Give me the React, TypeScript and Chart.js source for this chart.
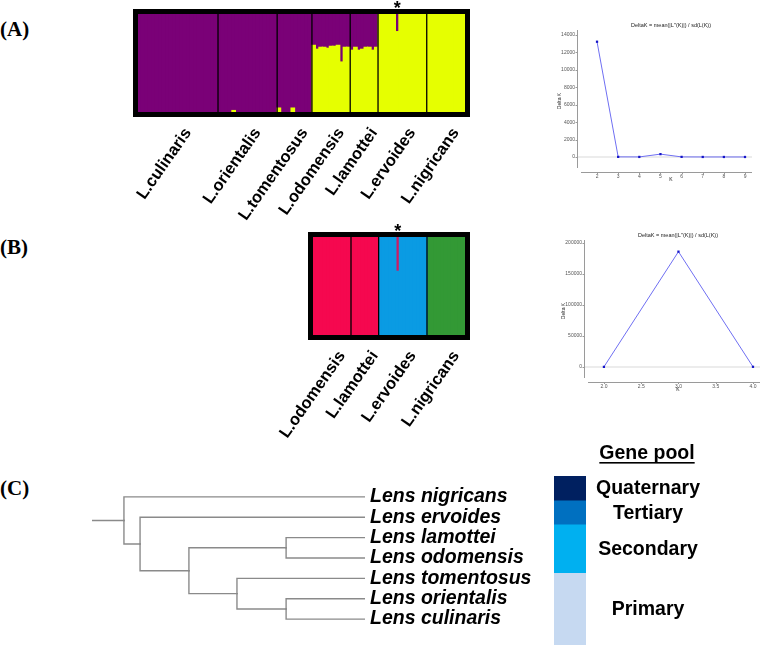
import React, { useEffect, useRef } from "react";
import { Chart, registerables } from "chart.js";
Chart.register(...registerables);

const SANS = "'Liberation Sans', Arial, sans-serif";
const SERIF = "'Liberation Serif', 'Times New Roman', serif";

// ---------- Panel A : STRUCTURE K = 2 (yellow membership per individual) ----------
const groupsA = ["L.culinaris", "L.orientalis", "L.tomentosus", "L.odomensis", "L.lamottei", "L.ervoides", "L.nigricans"];
const yellowCulinaris = [0, 0, 0, 0, 0, 0, 0, 0, 0, 0, 0, 0, 0, 0, 0, 0, 0, 0, 0, 0, 0, 0, 0];
const yellowOrientalis = [0, 0, 0, 0, 0.015, 0, 0, 0, 0, 0, 0, 0, 0, 0, 0, 0, 0];
const yellowTomentosus = [0.04, 0, 0, 0, 0.04, 0, 0, 0, 0, 0];
const yellowOdomensis = [0.68, 0.64, 0.66, 0.66, 0.65, 0.67, 0.67, 0.68, 0.51, 0.66, 0.66];
const yellowLamottei = [0.63, 0.66, 0.63, 0.64, 0.66, 0.66, 0.63, 0.66];
const yellowErvoides = [1, 1, 1, 1, 1, 0.82, 1, 1, 1, 1, 1, 1, 1, 1];
const yellowNigricans = [1, 1, 1, 1, 1, 1, 1, 1, 1, 1, 1];
const starGroupA = 5;
const starMemberA = 5;

// ---------- Panel B : STRUCTURE K = 3 ----------
const groupsB = ["L.odomensis", "L.lamottei", "L.ervoides", "L.nigricans"];
const redOdomensisB = [1, 1, 1, 1, 1, 1, 1, 1, 1, 1, 1];
const redLamotteiB = [1, 1, 1, 1, 1, 1, 1, 1];
const redErvoidesB = [0, 0, 0, 0, 0, 0.35, 0, 0, 0, 0, 0, 0, 0, 0];
const greenNigricansB = [1, 1, 1, 1, 1, 1, 1, 1, 1, 1, 1];
const starGroupB = 2;
const starMemberB = 5;

// ---------- DeltaK (Evanno) ----------
const kValuesA = [2, 3, 4, 5, 6, 7, 8, 9];
const deltaKA = [13230, 15, 8, 330, 12, 5, 4, 3];
const yTicksA = [0, 2000, 4000, 6000, 8000, 10000, 12000, 14000];
const kValuesB = [2, 3, 4];
const deltaKB = [200, 186000, 300];
const xTicksB = [2.0, 2.5, 3.0, 3.5, 4.0];
const yTicksB = [0, 50000, 100000, 150000, 200000];
const deltaTitle = "DeltaK = mean(|L''(K)|) / sd(L(K))";

// ---------- Panel C : tree + gene pool ----------
const tipNames = ["Lens nigricans", "Lens ervoides", "Lens lamottei", "Lens odomensis", "Lens tomentosus", "Lens orientalis", "Lens culinaris"];
const cladeIds = ["root", "c1", "c2", "c3", "c4", "c5"];
const cladeDepths = [11.7, 17.6, 35.5, 71.1, 53.1, 71.1];
const cladeChildren = [
  ["Lens nigricans", "c1"],
  ["Lens ervoides", "c2"],
  ["c3", "c4"],
  ["Lens lamottei", "Lens odomensis"],
  ["Lens tomentosus", "c5"],
  ["Lens orientalis", "Lens culinaris"],
];
const rootStubDepth = 0;
const tipDepth = 100;

const poolNames = ["Quaternary", "Tertiary", "Secondary", "Primary"];
const poolSpecies = [1, 1, 2, 3];
const poolColors = ["#002060", "#0070C0", "#00B0F0", "#C6D9F1"];

// ---------- helpers ----------
const skipZero = (arr: number[]) => arr.map((v) => (v === 0 ? null : v));

function ChartBox({ left, top, width, height, make }: any) {
  const ref = useRef<HTMLCanvasElement>(null);
  useEffect(() => {
    const chart = new Chart(ref.current as HTMLCanvasElement, make());
    return () => chart.destroy();
  }, []);
  return (
    <canvas
      ref={ref}
      width={width}
      height={height}
      style={{ position: "absolute", left, top, width, height, display: "block" }}
    />
  );
}

function structureDeco(names: string[], counts: number[], starIndex: number) {
  return {
    id: "structureDeco",
    afterDraw(chart: any) {
      const { ctx, chartArea: a } = chart;
      const total = counts.reduce((s, c) => s + c, 0);
      const step = (a.right - a.left) / total;
      ctx.save();
      ctx.strokeStyle = "#000";
      ctx.lineWidth = 1.3;
      let cum = 0;
      counts.forEach((c, i) => {
        if (i > 0) {
          const x = a.left + cum * step;
          ctx.beginPath();
          ctx.moveTo(x, a.top);
          ctx.lineTo(x, a.bottom);
          ctx.stroke();
        }
        cum += c;
      });
      ctx.lineWidth = 5;
      ctx.strokeRect(a.left - 2.5, a.top - 2.5, a.right - a.left + 5, a.bottom - a.top + 5);
      ctx.fillStyle = "#000";
      ctx.font = `bold 16.5px ${SANS}`;
      ctx.textAlign = "right";
      ctx.textBaseline = "middle";
      cum = 0;
      counts.forEach((c, i) => {
        const cx = a.left + (cum + c / 2) * step;
        ctx.save();
        ctx.translate(cx + 10, a.bottom + 18);
        ctx.rotate((-55 * Math.PI) / 180);
        ctx.fillText(names[i], 0, 0);
        ctx.restore();
        cum += c;
      });
      const sx = chart.scales.x.getPixelForValue(starIndex);
      ctx.font = `bold 18px ${SANS}`;
      ctx.textAlign = "center";
      ctx.textBaseline = "alphabetic";
      ctx.fillText("*", sx, a.top + 0);
      ctx.restore();
    },
  };
}

function structureConfig(labels: string[], datasets: any[], pad: any, names: string[], counts: number[], star: number) {
  return {
    type: "bar",
    data: { labels, datasets },
    options: {
      responsive: false,
      animation: false,
      devicePixelRatio: 1,
      events: [],
      layout: { padding: pad },
      plugins: { legend: { display: false }, tooltip: { enabled: false } },
      datasets: { bar: { barPercentage: 1, categoryPercentage: 1, borderWidth: 0, inflateAmount: 0.6 } },
      scales: {
        x: { stacked: true, display: false },
        y: { stacked: true, display: false, min: 0, max: 1 },
      },
    },
    plugins: [structureDeco(names, counts, star)],
  };
}

function deltaDeco(o: any) {
  return {
    id: "deltaDeco",
    afterDraw(chart: any) {
      const { ctx, chartArea: a } = chart;
      const xs = chart.scales.x;
      const ys = chart.scales.y;
      ctx.save();
      ctx.strokeStyle = "#9a9a9a";
      ctx.lineWidth = 1;
      ctx.beginPath();
      ctx.moveTo(a.left - 0.5, a.top);
      ctx.lineTo(a.left - 0.5, a.bottom - 4);
      ctx.moveTo(a.left + 3, a.bottom + 0.5);
      ctx.lineTo(a.right, a.bottom + 0.5);
      ys.ticks.forEach((t: any) => {
        const y = Math.round(ys.getPixelForValue(t.value)) + 0.5;
        ctx.moveTo(a.left - 2.5, y);
        ctx.lineTo(a.left - 0.5, y);
      });
      xs.ticks.forEach((t: any) => {
        const x = Math.round(xs.getPixelForValue(t.value)) + 0.5;
        ctx.moveTo(x, a.bottom + 0.5);
        ctx.lineTo(x, a.bottom + 2);
      });
      ctx.stroke();
      const cx = (a.left + a.right) / 2 + o.titleDx;
      ctx.fillStyle = "#222";
      ctx.font = `5.5px ${SANS}`;
      ctx.textAlign = "center";
      ctx.textBaseline = "middle";
      ctx.fillText(o.title, cx, a.top - o.titleDy);
      ctx.font = `5px ${SANS}`;
      ctx.fillText("K", cx, a.bottom + 8);
      ctx.save();
      ctx.translate(a.left - o.yLabelDx, (a.top + a.bottom) / 2);
      ctx.rotate(-Math.PI / 2);
      ctx.fillText("Delta K", 0, 0);
      ctx.restore();
      ctx.restore();
    },
  };
}

function deltaConfig(ks: number[], vals: number[], o: any) {
  return {
    type: "line",
    data: {
      datasets: [
        {
          data: ks.map((k, i) => ({ x: k, y: vals[i] })),
          borderColor: "#6f6ff2",
          borderWidth: 1,
          pointStyle: "rect",
          pointRadius: 1.6,
          pointBackgroundColor: "#1515c8",
          pointBorderWidth: 0,
          tension: 0,
        },
      ],
    },
    options: {
      responsive: false,
      animation: false,
      devicePixelRatio: 1,
      events: [],
      layout: { padding: o.pad },
      plugins: { legend: { display: false }, tooltip: { enabled: false } },
      scales: {
        x: {
          type: "linear",
          min: o.xMin,
          max: o.xMax,
          afterBuildTicks: (s: any) => {
            s.ticks = o.xTicks.map((v: number) => ({ value: v }));
          },
          afterFit: (s: any) => {
            s.height = o.xHeight;
          },
          grid: { display: false, drawTicks: false },
          border: { display: false },
          ticks: { font: { size: 5, family: SANS }, color: "#555", padding: o.xPad, maxRotation: 0, autoSkip: false, callback: o.xFmt },
        },
        y: {
          type: "linear",
          min: o.yMin,
          max: o.yMax,
          afterBuildTicks: (s: any) => {
            s.ticks = o.yTicks.map((v: number) => ({ value: v }));
          },
          afterFit: (s: any) => {
            s.width = o.yWidth;
          },
          grid: {
            drawTicks: false,
            lineWidth: 2,
            color: (c: any) => (c.tick && c.tick.value === 0 ? "#ececec" : "rgba(0,0,0,0)"),
          },
          border: { display: false },
          ticks: { font: { size: 5, family: SANS }, color: "#555", padding: 3, autoSkip: false, callback: (v: any) => String(v) },
        },
      },
    },
    plugins: [deltaDeco(o)],
  };
}

function treeDatasets() {
  const yOf: Record<string, number> = {};
  tipNames.forEach((n, i) => (yOf[n] = i));
  const depthOf: Record<string, number> = {};
  tipNames.forEach((n) => (depthOf[n] = tipDepth));
  cladeIds.forEach((id, i) => (depthOf[id] = cladeDepths[i]));
  const childrenOf: Record<string, string[]> = {};
  cladeIds.forEach((id, i) => (childrenOf[id] = cladeChildren[i]));
  const getY = (id: string): number => {
    if (yOf[id] !== undefined) return yOf[id];
    const ch = childrenOf[id];
    yOf[id] = (getY(ch[0]) + getY(ch[1])) / 2;
    return yOf[id];
  };
  getY("root");
  const segs: any[] = [];
  segs.push([
    { x: rootStubDepth, y: yOf["root"] },
    { x: depthOf["root"], y: yOf["root"] },
  ]);
  cladeIds.forEach((id) => {
    childrenOf[id].forEach((ch) => {
      segs.push([
        { x: depthOf[id], y: yOf[id] },
        { x: depthOf[id], y: yOf[ch] },
        { x: depthOf[ch], y: yOf[ch] },
      ]);
    });
  });
  return segs.map((d) => ({
    data: d,
    borderColor: "#8a8a8a",
    borderWidth: 1.4,
    pointRadius: 0,
    tension: 0,
    borderCapStyle: "square",
    borderJoinStyle: "miter",
  }));
}

function makeTree() {
  return {
    type: "line",
    data: { datasets: treeDatasets() },
    options: {
      responsive: false,
      animation: false,
      devicePixelRatio: 1,
      events: [],
      layout: { padding: { left: 12, top: 4, bottom: 4, right: 0 } },
      plugins: { legend: { display: false }, tooltip: { enabled: false } },
      scales: {
        x: { type: "linear", min: 0, max: 100, display: false },
        y: {
          type: "linear",
          position: "right",
          reverse: true,
          min: -0.5,
          max: 6.5,
          afterBuildTicks: (s: any) => {
            s.ticks = tipNames.map((_, i) => ({ value: i }));
          },
          afterFit: (s: any) => {
            s.width = 175;
          },
          grid: { display: false, drawTicks: false },
          border: { display: false },
          ticks: {
            autoSkip: false,
            padding: 5,
            color: "#000",
            font: { size: 19.5, family: SANS, weight: "bold", style: "italic" },
            callback: (v: any) => tipNames[v],
          },
        },
      },
    },
  };
}

const poolDeco = {
  id: "poolDeco",
  afterDraw(chart: any) {
    const { ctx, chartArea: a } = chart;
    const cx = a.left + 94;
    ctx.save();
    ctx.fillStyle = "#000";
    ctx.textAlign = "center";
    ctx.textBaseline = "middle";
    ctx.font = `bold 19.5px ${SANS}`;
    chart.data.datasets.forEach((ds: any, i: number) => {
      const el = chart.getDatasetMeta(i).data[0];
      const y = (el.y + el.base) / 2 + 1;
      ctx.fillText(ds.label, cx, y);
    });
    const hy = a.top - 22;
    ctx.fillText("Gene pool", cx - 1, hy);
    const w = ctx.measureText("Gene pool").width;
    ctx.fillRect(cx - 1 - w / 2, hy + 8, w, 1.6);
    ctx.restore();
  },
};

function makePool() {
  return {
    type: "bar",
    data: {
      labels: ["pool"],
      datasets: poolNames.map((n, i) => ({ label: n, data: [poolSpecies[i]], backgroundColor: poolColors[i] })),
    },
    options: {
      responsive: false,
      animation: false,
      devicePixelRatio: 1,
      events: [],
      layout: { padding: { left: 0, right: 138, top: 36, bottom: 1 } },
      plugins: { legend: { display: false }, tooltip: { enabled: false } },
      datasets: { bar: { barPercentage: 1, categoryPercentage: 1, borderWidth: 0 } },
      scales: {
        x: { stacked: true, display: false },
        y: { stacked: true, display: false, min: 0, max: 7, reverse: true },
      },
    },
    plugins: [poolDeco],
  };
}

function makeStructA() {
  const groups = [yellowCulinaris, yellowOrientalis, yellowTomentosus, yellowOdomensis, yellowLamottei, yellowErvoides, yellowNigricans];
  const counts = groups.map((g) => g.length);
  const yellow = groups.flat();
  const purple = yellow.map((v) => 1 - v);
  const labels = yellow.map((_, i) => String(i + 1));
  const star = counts.slice(0, starGroupA).reduce((s, c) => s + c, 0) + starMemberA;
  return structureConfig(
    labels,
    [
      { label: "cluster 2", data: skipZero(yellow), backgroundColor: "#E6FF00" },
      { label: "cluster 1", data: skipZero(purple), backgroundColor: "#7A0177" },
    ],
    { left: 38, right: 15, top: 14, bottom: 128 },
    groupsA,
    counts,
    star
  );
}

function makeStructB() {
  const counts = [redOdomensisB.length, redLamotteiB.length, redErvoidesB.length, greenNigricansB.length];
  const z = (n: number) => new Array(n).fill(0);
  const red = [...redOdomensisB, ...redLamotteiB, ...redErvoidesB, ...z(greenNigricansB.length)];
  const blue = [...z(redOdomensisB.length + redLamotteiB.length), ...redErvoidesB.map((v) => 1 - v), ...z(greenNigricansB.length)];
  const green = [...z(redOdomensisB.length + redLamotteiB.length + redErvoidesB.length), ...greenNigricansB];
  const labels = red.map((_, i) => String(i + 1));
  const star = counts.slice(0, starGroupB).reduce((s, c) => s + c, 0) + starMemberB;
  return structureConfig(
    labels,
    [
      { label: "blue", data: skipZero(blue), backgroundColor: "#0A9BE3" },
      { label: "green", data: skipZero(green), backgroundColor: "#339935" },
      { label: "red", data: skipZero(red), backgroundColor: (c: any) => (c.dataIndex === star ? "#CF1A62" : "#F5084F") },
    ],
    { left: 43, right: 15, top: 17, bottom: 125 },
    groupsB,
    counts,
    star
  );
}

const panelLabel = (text: string, top: number) => (
  <div
    style={{
      position: "absolute",
      left: 0,
      top,
      fontFamily: SERIF,
      fontWeight: "bold",
      fontSize: 21,
      lineHeight: "21px",
      color: "#000",
    }}
  >
    {text}
  </div>
);

export default function App() {
  return (
    <div style={{ position: "absolute", left: 0, top: 0, width: 768, height: 646, background: "#fff", overflow: "hidden" }}>
      {panelLabel("(A)", 19)}
      {panelLabel("(B)", 237)}
      {panelLabel("(C)", 478)}
      <ChartBox left={100} top={0} width={380} height={240} make={makeStructA} />
      <ChartBox left={270} top={220} width={210} height={240} make={makeStructB} />
      <ChartBox
        left={520}
        top={15}
        width={248}
        height={180}
        make={() =>
          deltaConfig(kValuesA, deltaKA, {
            pad: { left: 0, right: 16, top: 15, bottom: 0 },
            xMin: 1.1,
            xMax: 9.33,
            yMin: -1721,
            yMax: 14574,
            xTicks: kValuesA,
            yTicks: yTicksA,
            xFmt: (v: any) => String(v),
            xHeight: 23,
            xPad: 2,
            yWidth: 58,
            title: deltaTitle,
            titleDx: 6,
            titleDy: 5,
            yLabelDx: 18,
          })
        }
      />
      <ChartBox
        left={520}
        top={225}
        width={248}
        height={175}
        make={() =>
          deltaConfig(kValuesB, deltaKB, {
            pad: { left: 0, right: 8, top: 15, bottom: 0 },
            xMin: 1.746,
            xMax: 4.094,
            yMin: -24200,
            yMax: 204800,
            xTicks: xTicksB,
            yTicks: yTicksB,
            xFmt: (v: any) => Number(v).toFixed(1),
            xHeight: 18,
            xPad: 2,
            yWidth: 65,
            title: deltaTitle,
            titleDx: 5.5,
            titleDy: 4.5,
            yLabelDx: 21,
          })
        }
      />
      <ChartBox left={80} top={470} width={460} height={176} make={makeTree} />
      <ChartBox left={554} top={440} width={170} height={206} make={makePool} />
    </div>
  );
}
